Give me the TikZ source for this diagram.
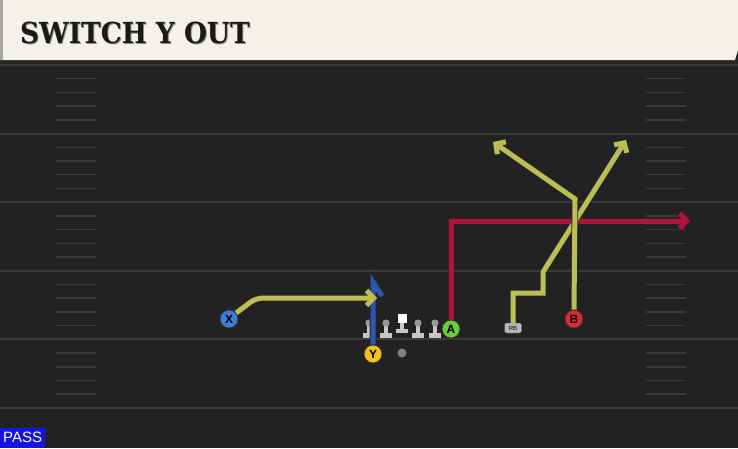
\documentclass[tikz,border=0pt]{standalone}
\usepackage{fontspec}
\usetikzlibrary{arrows.meta, positioning}

\newfontfamily\titlefont{DejaVu Serif}
\newfontfamily\labelfont{Liberation Sans}

\definecolor{fieldbg}{HTML}{222222}
\definecolor{fieldline}{HTML}{3A3A3A}
\definecolor{headerbg}{HTML}{F4F1EA}
\definecolor{routeyellow}{HTML}{BDBD55}
\definecolor{routered}{HTML}{B3123B}
\definecolor{routeblue}{HTML}{2E55B0}
\definecolor{xblue}{HTML}{3A7FD8}
\definecolor{yyellow}{HTML}{F2C318}
\definecolor{agreen}{HTML}{6CCB3A}
\definecolor{bred}{HTML}{E0263A}
\definecolor{passblue}{HTML}{1414E6}

\tikzset{
    player/.style={draw=black!80, circle, line width=0.8pt, minimum size=18pt,
        inner sep=0pt, font=\labelfont\bfseries\fontsize{12}{12}\selectfont},
    route/.style={line width=5pt, preaction={draw=black!85, line width=6.6pt}},
    tip/.style={-{Straight Barb[length=7pt, width=15pt]}},
    yardline/.style={draw=fieldline, line width=2pt},
    hash/.style={draw=fieldline, line width=1.5pt},
    lineman/.style={fill=black!22},
    head/.style={fill=black!40}
}

\begin{document}
\begin{tikzpicture}[x=1pt, y=-1pt]
    \useasboundingbox (0,0) rectangle (738,448);

    % Field
    \fill[fieldbg] (0,0) rectangle (738,448);
    \fill[black!85] (0,60) rectangle (738,65);
    \foreach \y in {65,133.6,202.2,270.8,339.4,408}
        \draw[yardline] (0,\y) -- (738,\y);
    \foreach \y in {65,133.6,202.2,270.8,339.4}
        \foreach \k in {1,...,4} {
            \draw[hash] (56,\y+13.7*\k) -- (96,\y+13.7*\k);
            \draw[hash] (646,\y+13.7*\k) -- (686,\y+13.7*\k);
        }

    % Header
    \fill[headerbg] (0,0) -- (738,0) -- (738,50) -- (735,60) -- (0,60) -- cycle;
    \fill[black!35] (0,0) rectangle (3,60);
    \node[anchor=base west, inner sep=0pt, text=black!45, xscale=0.91,
        font=\titlefont\bfseries\fontsize{29}{29}\selectfont] (titleshadow) at (21,44) {SWITCH Y OUT};
    \node[anchor=base west, inner sep=0pt, text=black!90, xscale=0.91,
        font=\titlefont\bfseries\fontsize{29}{29}\selectfont] (title) at (20,43) {SWITCH Y OUT};

    % Players
    \node[player, fill=xblue] (X) at (229,319) {X};
    \node[player, fill=yyellow] (Y) at (373,354) {Y};
    \node[player, fill=agreen] (A) at (451,329) {A};
    \node[player, fill=bred] (B) at (574,319) {B};
    \node[draw=black!70, fill=black!28, rounded corners=2pt, minimum width=17pt,
        minimum height=10pt, inner sep=0pt, font=\labelfont\fontsize{6}{6}\selectfont] (RB) at (513,328) {RB};
    \node[circle, fill=black!50, minimum size=9pt, inner sep=0pt] (ball) at (402,353) {};

    % Line
    \foreach \x in {369,386,418,435} {
        \fill[lineman] (\x-6,333) rectangle (\x+6,338);
        \fill[lineman] (\x-2,323) rectangle (\x+2,334);
        \fill[head] (\x,323) circle (3.6);
    }
    \fill[lineman] (396,329) rectangle (408,333);
    \fill[lineman] (400,321) rectangle (404,330);
    \node[fill=white, minimum size=9pt, inner sep=0pt] (C) at (402,318) {};

    % Route points
    \coordinate (xbend) at (256,298);
    \coordinate (xend) at (377,298);
    \coordinate (yturn) at (373,282);
    \coordinate (yend) at (382,296);
    \coordinate (aturn) at (451,221);
    \coordinate (aend) at (690,221);
    \coordinate (rb1) at (513,293);
    \coordinate (rb2) at (543,293);
    \coordinate (rb3) at (543,272);
    \coordinate (rbend) at (626,140);
    \coordinate (bturn) at (575,199);
    \coordinate (bend) at (493,142);

    % Routes
    \draw[route, routered, tip] (A.north) -- (aturn) -- (aend);
    \draw[route, routeblue] (Y.north) -- (yturn) -- (yend);
    \draw[route, routeyellow, tip, rounded corners=7pt] (X.40) -- (xbend) -- (xend);
    \draw[route, routeyellow, tip] (RB.north) -- (rb1) -- (rb2) -- (rb3) -- (rbend);
    \draw[route, routeyellow, tip] (B.north) -- (bturn) -- (bend);

    % Tag
    \node[fill=passblue, text=white, anchor=south west, minimum width=45pt, minimum height=20pt,
        inner sep=0pt, font=\labelfont\fontsize{15}{15}\selectfont] (pass) at (0,448) {PASS};
\end{tikzpicture}
\end{document}
